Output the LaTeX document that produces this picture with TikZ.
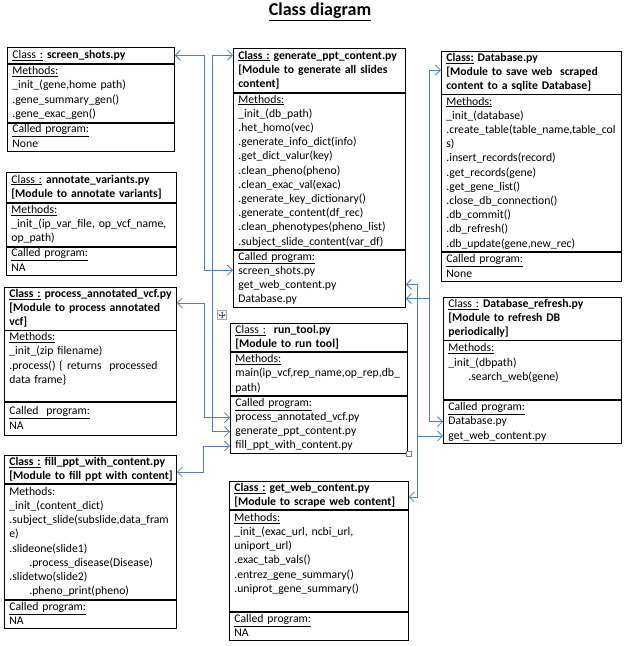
\documentclass[tikz,border=0pt]{standalone}
\usepackage{fontspec}
\setmainfont{Carlito}
\usetikzlibrary{arrows.meta}
\definecolor{connblue}{RGB}{79,129,189}
\newcommand\fsz{\fontsize{11.7}{14.2}\selectfont}
\hyphenpenalty=10000 \exhyphenpenalty=10000
\begin{document}
\begin{tikzpicture}[x=1pt,y=-1pt,
  sec/.style={draw, line width=0.8pt, anchor=north west, inner xsep=5pt, inner ysep=0pt,
    align=left, font=\fsz, execute at begin node=\strut, execute at end node=\strut},
  conn/.style={draw=connblue, line width=0.8pt},
  >={Straight Barb[length=5pt,width=10pt]}
]
\fill[white] (0,0) rectangle (629,646);
\useasboundingbox (0,0) rectangle (629,646);

\node[font=\fontsize{18}{22}\selectfont\bfseries] (title) at (320,12) {\underline{Class~diagram}};

% screen_shots
\node[sec, text width=157pt, minimum height=16pt] (ssH) at (7,47) {\underline{Class~:}~\textbf{screen\_shots.py}};
\node[sec, text width=157pt, minimum height=58pt] (ssM) at (ssH.south west) {\underline{Methods:}\\\_init\_(gene,home~path)\\.gene\_summary\_gen()\\.gene\_exac\_gen()};
\node[sec, text width=157pt, minimum height=27pt] (ssC) at (ssM.south west) {\underline{Called~program:}\\None};

% annotate_variants
\node[sec, text width=160pt, minimum height=30pt] (avH) at (6,172) {\underline{Class~:}~\textbf{annotate\_variants.py}\\\textbf{[Module~to~annotate~variants]}};
\node[sec, text width=160pt, minimum height=43pt] (avM) at (avH.south west) {\underline{Methods:}\\\_init\_(ip\_var\_file,~op\_vcf\_name,\\op\_path)};
\node[sec, text width=160pt, minimum height=28pt] (avC) at (avM.south west) {\underline{Called~program:}\\NA};

% process_annotated_vcf
\node[sec, text width=162pt, minimum height=42pt] (pavH) at (4,287) {\underline{\textbf{Class~:}}~\textbf{process\_annotated\_vcf.py}\\\textbf{[Module~to~process~annotated}\\\textbf{vcf]}};
\node[sec, text width=162pt, minimum height=68pt] (pavM) at (pavH.south west) {\underline{Methods:}\\\_init\_(zip~filename)\\.process()~\{~returns~~processed\\data~frame\}\\\mbox{}};
\node[sec, text width=162pt, minimum height=33pt] (pavC) at (pavM.south west) {\underline{Called~~program:}\\NA};

% fill_ppt_with_content
\node[sec, text width=162pt, minimum height=28pt] (fpH) at (4,455) {\underline{\textbf{Class~:}}~\textbf{fill\_ppt\_with\_content.py}\\\textbf{[Module~to~fill~ppt~with~content]}};
\node[sec, text width=162pt, minimum height=115pt] (fpM) at (fpH.south west) {Methods:\\\_init\_(content\_dict)\\.subject\_slide(subslide,data\_fram\\e)\\.slideone(slide1)\\\hspace*{20pt}.process\_disease(Disease)\\.slidetwo(slide2)\\\hspace*{20pt}.pheno\_print(pheno)};
\node[sec, text width=162pt, minimum height=28pt] (fpC) at (fpM.south west) {\underline{Called~program:}\\NA};

% generate_ppt_content
\node[sec, text width=162pt, minimum height=44pt] (gpH) at (233,48) {\underline{\textbf{Class~:}}~\textbf{generate\_ppt\_content.py}\\\textbf{[Module~to~generate~all~slides}\\\textbf{content]}};
\node[sec, text width=162pt, minimum height=156pt] (gpM) at (gpH.south west) {\underline{Methods:}\\\_init\_(db\_path)\\.het\_homo(vec)\\.generate\_info\_dict(info)\\.get\_dict\_valur(key)\\.clean\_pheno(pheno)\\.clean\_exac\_val(exac)\\.generate\_key\_dictionary()\\.generate\_content(df\_rec)\\.clean\_phenotypes(pheno\_list)\\.subject\_slide\_content(var\_df)};
\node[sec, text width=162pt, minimum height=55pt] (gpC) at (gpM.south west) {\underline{Called~program:}\\screen\_shots.py\\get\_web\_content.py\\Database.py};

% run_tool
\node[sec, text width=167pt, minimum height=28pt] (rtH) at (230,323) {\underline{Class~:}~~\textbf{run\_tool.py}\\\textbf{[Module~to~run~tool]}};
\node[sec, text width=167pt, minimum height=43pt] (rtM) at (rtH.south west) {\underline{Methods:}\\main(ip\_vcf,rep\_name,op\_rep,db\_\\path)};
\node[sec, text width=167pt, minimum height=56pt] (rtC) at (rtM.south west) {\underline{Called~program:}\\process\_annotated\_vcf.py\\generate\_ppt\_content.py\\fill\_ppt\_with\_content.py};

% get_web_content
\node[sec, text width=169pt, minimum height=28pt] (gwH) at (229,481) {\underline{\textbf{Class~:}}~\textbf{get\_web\_content.py}\\\textbf{[Module~to~scrape~web~content]}};
\node[sec, text width=169pt, minimum height=101pt] (gwM) at (gwH.south west) {\underline{Methods:}\\\_init\_(exac\_url,~ncbi\_url,\\uniport\_url)\\.exac\_tab\_vals()\\.entrez\_gene\_summary()\\.uniprot\_gene\_summary()\\\mbox{}};
\node[sec, text width=169pt, minimum height=27pt] (gwC) at (gwM.south west) {\underline{Called~program:}\\NA};

% Database
\node[sec, text width=170pt, minimum height=41pt] (dbH) at (441,51) {\underline{\textbf{Class:}}~\textbf{Database.py}\\\textbf{[Module~to~save~web~~scraped}\\\textbf{content~to~a~sqlite~Database]}};
\node[sec, text width=170pt, minimum height=157pt] (dbM) at (dbH.south west) {\underline{Methods:}\\\_init\_(database)\\.create\_table(table\_name,table\_col\\s)\\.insert\_records(record)\\.get\_records(gene)\\.get\_gene\_list()\\.close\_db\_connection()\\.db\_commit()\\.db\_refresh()\\.db\_update(gene,new\_rec)};
\node[sec, text width=170pt, minimum height=29pt] (dbC) at (dbM.south west) {\underline{Called~program:}\\None};

% Database_refresh
\node[sec, text width=168pt, minimum height=42pt] (drH) at (443,297) {\underline{Class~:}~\textbf{Database\_refresh.py}\\\textbf{[Module~to~refresh~DB}\\\textbf{periodically]}};
\node[sec, text width=168pt, minimum height=59pt] (drM) at (drH.south west) {\underline{Methods:}\\\_init\_(dbpath)\\\hspace*{20pt}.search\_web(gene)\\\mbox{}};
\node[sec, text width=168pt, minimum height=43pt] (drC) at (drM.south west) {\underline{Called~program:}\\Database.py\\get\_web\_content.py};

% anchor points on text lines
\coordinate (gp-ss) at ([yshift=-20.4pt]gpC.north west);
\coordinate (gp-gw) at ([yshift=-34.6pt]gpC.north east);
\coordinate (gp-db) at ([yshift=-48.8pt]gpC.north east);
\coordinate (rt-pav) at ([yshift=-21.5pt]rtC.north west);
\coordinate (rt-gp) at ([yshift=-35.7pt]rtC.north west);
\coordinate (rt-fp) at ([yshift=-49.9pt]rtC.north west);
\coordinate (dr-db) at ([yshift=-21.5pt]drC.north west);
\coordinate (dr-gw) at ([yshift=-35.7pt]drC.north west);
\coordinate (gp-top) at ([yshift=-7pt]gpH.north west);
\coordinate (db-top) at ([yshift=-19pt]dbH.north west);
\coordinate (pav-in) at ([yshift=-16pt]pavH.north east);
\coordinate (fp-in) at ([yshift=-17pt]fpH.north east);
\coordinate (gw-in) at ([yshift=-16pt]gwH.north east);
\coordinate (dbx) at ([xshift=24pt]gp-db);
\coordinate (gwx) at ([xshift=12pt]gp-gw);

% connectors
\draw[conn,<->] (ssH.east) -- ++(30,0) |- (gp-ss);
\draw[conn,<->] (gp-top) -- ++(-21,0) |- (rt-gp);
\draw[conn,<->] (pav-in) -- ++(28,0) |- (rt-pav);
\draw[conn,<->] (fp-in) -- ++(27,0) |- (rt-fp);
\draw[conn,<->] (gp-db) -- (dbx) |- (db-top);
\draw[conn,->] (dbx) |- (dr-db);
\draw[conn,<->] (gp-gw) -- (gwx) |- (gw-in);
\draw[conn,->] (gwx |- dr-gw) -- (dr-gw);

% editor handles
\node[draw=gray!70, fill=white, line width=0.5pt, minimum size=9pt, inner sep=0pt] (mvicon) at (222,315) {};
\draw[connblue!70!black, line width=0.4pt, <->, >={Stealth[length=1.5pt,width=2pt]}] ([xshift=-3.5pt]mvicon.center) -- ([xshift=3.5pt]mvicon.center);
\draw[connblue!70!black, line width=0.4pt, <->, >={Stealth[length=1.5pt,width=2pt]}] ([yshift=-3.5pt]mvicon.center) -- ([yshift=3.5pt]mvicon.center);
\node[draw=gray, fill=white, line width=0.5pt, minimum size=5pt, inner sep=0pt] (rsz) at (409,454) {};
\end{tikzpicture}
\end{document}
